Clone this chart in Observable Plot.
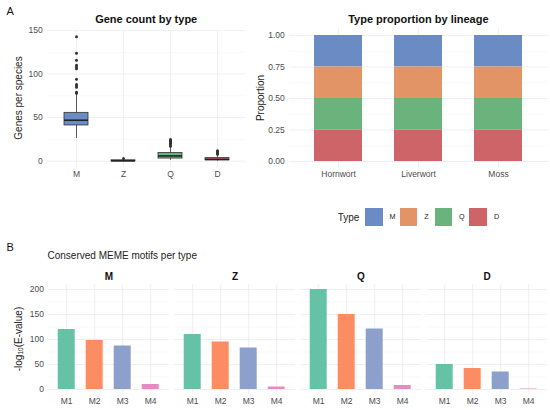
<!DOCTYPE html>
<html><head><meta charset="utf-8">
<script src="https://cdn.jsdelivr.net/npm/d3@7"></script>
<script src="https://cdn.jsdelivr.net/npm/@observablehq/plot@0.6"></script>
<style>
body{margin:0;background:#fff;font-family:"Liberation Sans",Arial,sans-serif;}
#root{position:relative;width:550px;height:410px;overflow:hidden;background:#fff;}
.abs{position:absolute;white-space:nowrap;line-height:1;}
.c{transform:translate(-50%,-50%);}
.r{transform:translate(-50%,-50%) rotate(-90deg);}
.l{transform:translate(0,-50%);}
#root svg{position:absolute;}
</style></head><body><div id="root"></div>
<script>
// ---------- data ----------
const types = ["M","Z","Q","D"];
const typeColors = ["#6a8bc4","#e39467","#6ab37c","#cd6468"];

// Box plot summaries (genes per species)
const boxQ1 = [41, 0, 3, 1];
const boxMedian = [47, 0.3, 6, 2];
const boxQ3 = [55.5, 1, 9.5, 3.5];
const whiskerLow = [26, 0, 1, 0];
const whiskerHigh = [77, 2, 16, 6];
const outliersM = [78, 79, 85, 87, 88, 94, 106, 108, 110, 116, 124, 143];
const outliersZ = [3];
const outliersQ = [17, 19, 20, 21, 22, 23, 24, 25];
const outliersD = [8, 9, 10, 11, 12];

// Type proportion by lineage
const lineages = ["Hornwort","Liverwort","Moss"];
const propM = [0.25, 0.25, 0.25];
const propZ = [0.25, 0.25, 0.25];
const propQ = [0.25, 0.25, 0.25];
const propD = [0.25, 0.25, 0.25];

// MEME motifs
const motifs = ["M1","M2","M3","M4"];
const motifColors = ["#66c2a5","#fc8d62","#8da0cb","#e78ac3"];
const motifScoreM = [120, 98, 87, 10];
const motifScoreZ = [110, 95, 83, 5];
const motifScoreQ = [200, 150, 121, 8];
const motifScoreD = [50, 42, 35, 1];

// ---------- build tables ----------
const boxes = types.map((t,i)=>({type:t,q1:boxQ1[i],med:boxMedian[i],q3:boxQ3[i],lo:whiskerLow[i],hi:whiskerHigh[i]}));
const outlierLists = [outliersM, outliersZ, outliersQ, outliersD];
const outliers = types.flatMap((t,i)=>outlierLists[i].map(v=>({type:t,value:v})));
const props = [propM, propZ, propQ, propD];
const stackData = lineages.flatMap((l,i)=>types.map((t,j)=>({lineage:l,type:t,prop:props[j][i]})));
const scores = [motifScoreM, motifScoreZ, motifScoreQ, motifScoreD];
const motifData = types.flatMap((t,i)=>motifs.map((m,j)=>({type:t,motif:m,score:scores[i][j]})));

const root = document.getElementById("root");
const baseStyle = {fontFamily:'"Liberation Sans",Arial,sans-serif', fontSize:"8.5px", color:"#4d4d4d", background:"transparent", overflow:"visible"};
const gridMajor = {stroke:"#ebebeb", strokeOpacity:1, strokeWidth:0.8};
const gridMinor = {stroke:"#f3f3f3", strokeOpacity:1, strokeWidth:0.5};

function place(el, left, top){ el.style.left = left+"px"; el.style.top = top+"px"; root.appendChild(el); }
function text(str, x, y, cls, css){
  const d = document.createElement("div");
  d.className = "abs " + cls;
  d.innerHTML = str;
  d.style.left = x+"px"; d.style.top = y+"px";
  Object.assign(d.style, css||{});
  root.appendChild(d);
}

// ---------- Panel A left: box plot ----------
const p1 = Plot.plot({
  width:246, height:185, marginLeft:47.2, marginRight:0.8, marginTop:29.9, marginBottom:18.1,
  x:{domain:types, paddingInner:0.5, paddingOuter:0.35, align:0.5, label:null},
  y:{domain:[-7.15,150.15], label:null},
  color:{domain:types, range:typeColors},
  style:baseStyle,
  marks:[
    Plot.gridY([25,75,125], gridMinor),
    Plot.gridY([0,50,100,150], gridMajor),
    Plot.gridX(types, gridMajor),
    Plot.ruleX(boxes,{x:"type", y1:"lo", y2:"hi", stroke:"#333", strokeWidth:0.8}),
    Plot.barY(boxes,{x:"type", y1:"q1", y2:"q3", fill:"type", stroke:"#333", strokeWidth:0.8}),
    Plot.tickY(boxes,{x:"type", y:"med", stroke:"#222", strokeWidth:1.6}),
    Plot.dot(outliers,{x:"type", y:"value", r:1.5, fill:"#333", stroke:null}),
    Plot.axisY([0,50,100,150],{tickSize:0, tickPadding:5, fontSize:8.5}),
    Plot.axisX({tickSize:0, tickPadding:3.5, fontSize:8.5})
  ]
});
place(p1, 0, 0);

// ---------- Panel A right: stacked proportions ----------
const p2 = Plot.plot({
  width:305, height:185, marginLeft:44, marginRight:2.3, marginTop:28.7, marginBottom:17.7,
  x:{domain:lineages, paddingInner:0.4, paddingOuter:0.3, align:0.5, label:null},
  y:{domain:[-0.05,1.05], label:null},
  color:{domain:types, range:typeColors},
  style:baseStyle,
  marks:[
    Plot.gridY([0.125,0.375,0.625,0.875], gridMinor),
    Plot.gridY([0,0.25,0.5,0.75,1], gridMajor),
    Plot.gridX(lineages, gridMajor),
    Plot.barY(stackData,{x:"lineage", y:"prop", fill:"type", order:["D","Q","Z","M"]}),
    Plot.axisY([0,0.25,0.5,0.75,1],{tickSize:0, tickPadding:4.7, tickFormat:d3.format(".2f"), fontSize:8.5}),
    Plot.axisX({tickSize:0, tickPadding:3.5, fontSize:8.5})
  ]
});
place(p2, 245, 0);

// ---------- Panel B: faceted motifs ----------
const p3 = Plot.plot({
  width:550, height:150, marginLeft:47.3, marginRight:2.6, marginTop:24, marginBottom:16,
  fx:{domain:types, paddingInner:0.042, paddingOuter:0, label:null},
  x:{domain:motifs, paddingInner:0.4, paddingOuter:0.3, align:0.5, label:null},
  y:{domain:[-10,210], label:null},
  color:{domain:motifs, range:motifColors},
  style:baseStyle,
  marks:[
    Plot.gridY([25,75,125,175], gridMinor),
    Plot.gridY([0,50,100,150,200], gridMajor),
    Plot.gridX(motifs, gridMajor),
    Plot.barY(motifData,{fx:"type", x:"motif", y:"score", fill:"motif"}),
    Plot.axisFx({anchor:"top", tickSize:0, tickPadding:4.5, fontSize:10, fontWeight:"bold", fill:"#111"}),
    Plot.axisY([0,50,100,150,200],{tickSize:0, tickPadding:4.6, fontSize:8.5}),
    Plot.axisX({tickSize:0, tickPadding:3.5, fontSize:8.5})
  ]
});
place(p3, 0, 260);

// ---------- text ----------
text("A", 6.5, 10.5, "l", {fontSize:"11px", color:"#111"});
text("B", 6.5, 247, "l", {fontSize:"11px", color:"#111"});
text("Gene count by type", 146.2, 19, "c", {fontSize:"11px", fontWeight:"bold", color:"#111"});
text("Type proportion by lineage", 418.4, 19, "c", {fontSize:"11px", fontWeight:"bold", color:"#111"});
text("Genes per species", 19, 98.4, "r", {fontSize:"10px", color:"#222"});
text("Proportion", 260.7, 98, "r", {fontSize:"10px", color:"#222"});
text("Conserved MEME motifs per type", 47.5, 256, "l", {fontSize:"10px", color:"#222"});
text("-log<sub style='font-size:6.5px;vertical-align:-1px'>10</sub>(E-value)", 19, 339, "r", {fontSize:"10px", color:"#222"});

// ---------- legend ----------
text("Type", 337.7, 217.5, "l", {fontSize:"10px", color:"#222"});
types.forEach((t,i)=>{
  const x0 = 365 + i*34.8;
  const sw = document.createElement("div");
  sw.className = "abs";
  Object.assign(sw.style, {left:x0+"px", top:"208px", width:"17.5px", height:"17.5px", background:typeColors[i]});
  root.appendChild(sw);
  text(t, x0+24.5, 217, "l", {fontSize:"7.2px", color:"#222"});
});
</script></body></html>
